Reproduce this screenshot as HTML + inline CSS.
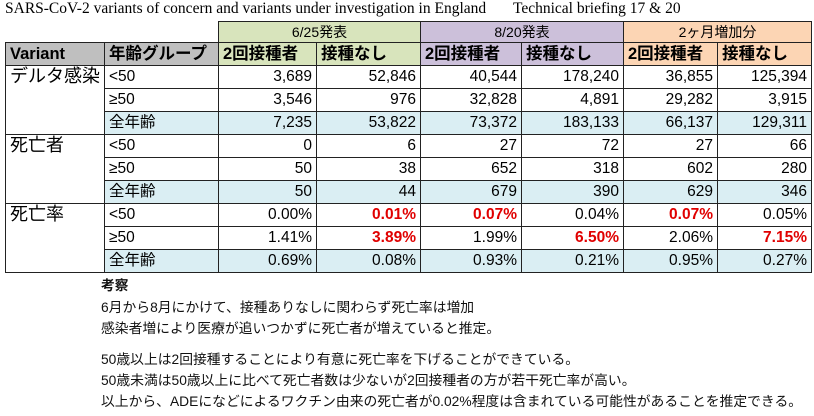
<!DOCTYPE html>
<html><head><meta charset="utf-8"><style>
body{margin:0;width:814px;height:416px;background:#fff;overflow:hidden;position:relative;font-family:"Liberation Sans","Noto Sans CJK JP",sans-serif}
.title{position:absolute;top:0px;left:5px;font:15.5px "Liberation Serif","Noto Serif CJK SC",serif;white-space:pre;color:#000}
table{position:absolute;left:5px;top:21px;border-collapse:collapse;table-layout:fixed}
td{border:1px solid #222;height:22px;padding:0 4px;font-size:15.5px;line-height:20px;white-space:nowrap;overflow:hidden}
td.n{text-align:right}
td.blank{border:none}
.h1 td{height:20px;font-size:14px;text-align:center}
.h2 td{font-weight:bold;font-size:16.5px}
.g{background:#d8e4bc}.p{background:#ccc0da}.o{background:#fcd5b4}.gr{background:#bfbfbf}.b{background:#daeef3}
.r{color:#e00000;font-weight:bold}
.v{vertical-align:top;font-size:18px}
.txt{position:absolute;left:101px;font-size:13.8px;color:#111;white-space:nowrap;font-family:"Liberation Sans","Noto Sans CJK JP",sans-serif}
</style></head><body>
<div class="title">SARS-CoV-2 variants of concern and variants under investigation in England       Technical briefing 17 &amp; 20</div>
<table>
<colgroup><col style="width:93px"><col style="width:114px"><col style="width:98px"><col style="width:104px"><col style="width:101px"><col style="width:102px"><col style="width:94px"><col style="width:94px"></colgroup>
<tr class="h1"><td class="blank"></td><td class="blank"></td><td colspan="2" class="g">6/25発表</td><td colspan="2" class="p">8/20発表</td><td colspan="2" class="o">2ヶ月増加分</td></tr>
<tr class="h2"><td class="gr">Variant</td><td class="gr">年齢グループ</td><td class="g">2回接種者</td><td class="g">接種なし</td><td class="p">2回接種者</td><td class="p">接種なし</td><td class="o">2回接種者</td><td class="o">接種なし</td></tr>
<tr><td rowspan="3" class="v">デルタ感染</td><td>&lt;50</td><td class="n">3,689</td><td class="n">52,846</td><td class="n">40,544</td><td class="n">178,240</td><td class="n">36,855</td><td class="n">125,394</td></tr>
<tr><td>≥50</td><td class="n">3,546</td><td class="n">976</td><td class="n">32,828</td><td class="n">4,891</td><td class="n">29,282</td><td class="n">3,915</td></tr>
<tr class="b"><td>全年齢</td><td class="n">7,235</td><td class="n">53,822</td><td class="n">73,372</td><td class="n">183,133</td><td class="n">66,137</td><td class="n">129,311</td></tr>
<tr><td rowspan="3" class="v" style="background:#fff">死亡者</td><td>&lt;50</td><td class="n">0</td><td class="n">6</td><td class="n">27</td><td class="n">72</td><td class="n">27</td><td class="n">66</td></tr>
<tr><td>≥50</td><td class="n">50</td><td class="n">38</td><td class="n">652</td><td class="n">318</td><td class="n">602</td><td class="n">280</td></tr>
<tr class="b"><td>全年齢</td><td class="n">50</td><td class="n">44</td><td class="n">679</td><td class="n">390</td><td class="n">629</td><td class="n">346</td></tr>
<tr><td rowspan="3" class="v" style="background:#fff">死亡率</td><td>&lt;50</td><td class="n">0.00%</td><td class="n r">0.01%</td><td class="n r">0.07%</td><td class="n">0.04%</td><td class="n r">0.07%</td><td class="n">0.05%</td></tr>
<tr><td>≥50</td><td class="n">1.41%</td><td class="n r">3.89%</td><td class="n">1.99%</td><td class="n r">6.50%</td><td class="n">2.06%</td><td class="n r">7.15%</td></tr>
<tr class="b"><td>全年齢</td><td class="n">0.69%</td><td class="n">0.08%</td><td class="n">0.93%</td><td class="n">0.21%</td><td class="n">0.95%</td><td class="n">0.27%</td></tr>
</table>
<div class="txt" style="top:274px;font-weight:bold">考察</div>
<div class="txt" style="top:296px">6月から8月にかけて、接種ありなしに関わらず死亡率は増加</div>
<div class="txt" style="top:317px">感染者増により医療が追いつかずに死亡者が増えていると推定。</div>
<div class="txt" style="top:348px">50歳以上は2回接種することにより有意に死亡率を下げることができている。</div>
<div class="txt" style="top:369px">50歳未満は50歳以上に比べて死亡者数は少ないが2回接種者の方が若干死亡率が高い。</div>
<div class="txt" style="top:390px">以上から、ADEになどによるワクチン由来の死亡者が0.02%程度は含まれている可能性があることを推定できる。</div>
</body></html>
